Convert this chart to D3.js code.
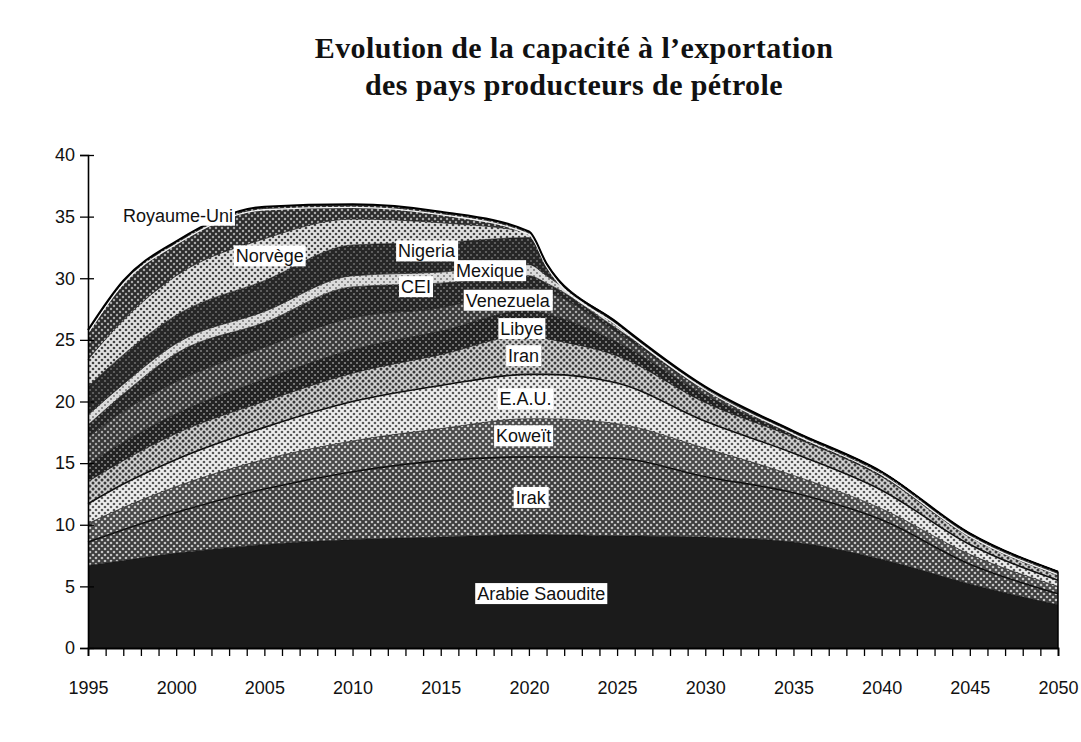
<!DOCTYPE html>
<html>
<head>
<meta charset="utf-8">
<script src="https://cdn.jsdelivr.net/npm/d3@7"></script>
<style>
  body { margin: 0; background: #fff; }
  text { font-family: "Liberation Sans", Arial, sans-serif; }
</style>
</head>
<body>
<svg id="chart" width="1081" height="742"></svg>
<script>
const years = [1995, 1997, 2000, 2005, 2010, 2015, 2020, 2021, 2025, 2030, 2035, 2040, 2045, 2050];

// export capacity per country (stack order, bottom first)
const arabieSaoudite = [6.7, 7.1, 7.7, 8.4, 8.8, 9.0, 9.2, 9.2, 9.1, 9.0, 8.6, 7.2, 5.2, 3.5];
const irak          = [1.9, 2.5, 3.3, 4.5, 5.5, 6.2, 6.3, 6.3, 6.3, 4.9, 4.0, 3.2, 1.6, 0.9];
const koweit        = [1.5, 1.8, 2.1, 2.4, 2.5, 2.6, 3.1, 3.1, 2.8, 2.3, 1.4, 0.9, 0.8, 0.6];
const eau           = [1.6, 1.9, 2.2, 2.6, 3.2, 3.5, 3.6, 3.6, 3.3, 2.2, 1.8, 1.5, 0.8, 0.5];
const iran          = [1.8, 1.9, 2.1, 2.1, 2.3, 2.5, 3.2, 2.9, 2.2, 1.5, 1.3, 1.1, 0.6, 0.4];
const libye         = [1.4, 1.5, 1.6, 1.8, 1.9, 1.9, 2.0, 2.0, 1.1, 0.6, 0.2, 0.2, 0.15, 0.15];
const venezuela     = [2.2, 2.5, 2.6, 2.6, 2.6, 1.9, 1.8, 1.8, 0.8, 0.4, 0.2, 0.2, 0.15, 0.15];
const cei           = [1.0, 1.4, 2.3, 2.0, 2.5, 2.0, 1.0, 0.7, 0.3, 0.1, 0.05, 0, 0, 0];
const mexique       = [0.8, 0.8, 0.8, 0.9, 0.9, 0.9, 0.9, 0.6, 0.2, 0.1, 0, 0, 0, 0];
const nigeria       = [2.3, 2.4, 2.3, 2.5, 2.5, 2.4, 2.2, 0.9, 0.3, 0.1, 0.05, 0, 0, 0];
const norvege       = [2.2, 2.8, 3.2, 3.4, 2.1, 1.6, 0.4, 0.1, 0, 0, 0, 0, 0, 0];
const royaumeUni    = [2.4, 3.2, 2.8, 2.6, 1.2, 0.9, 0.1, 0, 0, 0, 0, 0, 0, 0];

const countries = ["Arabie Saoudite", "Irak", "Koweït", "E.A.U.", "Iran", "Libye",
                   "Venezuela", "CEI", "Mexique", "Nigeria", "Norvège", "Royaume-Uni"];
const series = [arabieSaoudite, irak, koweit, eau, iran, libye,
                venezuela, cei, mexique, nigeria, norvege, royaumeUni];

// where each label sits: [year, value]
const labelPos = [[2020.7, 4.4], [2020.1, 12.2], [2019.7, 17.2], [2019.8, 20.2],
                  [2019.7, 23.7], [2019.6, 25.9], [2018.8, 28.2], [2013.6, 29.3],
                  [2017.8, 30.6], [2014.2, 32.2], [2005.3, 31.8], [2000.1, 35.1]];

const yTicks = [0, 5, 10, 15, 20, 25, 30, 35, 40];
const title = ["Evolution de la capacité à l\u2019exportation", "des pays producteurs de pétrole"];

// halftone look for each band: background, dot colour, dot radius
const shades = [
  ["#1b1b1b", "#1b1b1b", 0],
  ["#3d3d3d", "#c4c4c4", 1.3],
  ["#484848", "#cdcdcd", 1.3],
  ["#efefef", "#5a5a5a", 1.35],
  ["#d2d2d2", "#3a3a3a", 1.5],
  ["#222222", "#8a8a8a", 1.1],
  ["#383838", "#a8a8a8", 1.25],
  ["#252525", "#7a7a7a", 1.1],
  ["#dcdcdc", "#7a7a7a", 1.1],
  ["#262626", "#6a6a6a", 1.1],
  ["#e2e2e2", "#444444", 1.35],
  ["#2c2c2c", "#a8a8a8", 1.25]
];

var svg = d3.select("#chart");
var margin = {left: 88, right: 1058, top: 155, bottom: 648};

var x = d3.scaleLinear().domain([1995, 2050]).range([margin.left, margin.right]);
var y = d3.scaleLinear().domain([0, 40]).range([margin.bottom, margin.top]);

// table for d3.stack
var table = years.map(function(yr, i) {
  var row = {year: yr};
  countries.forEach(function(c, k) { row[c] = series[k][i]; });
  return row;
});
var stacked = d3.stack().keys(countries)(table);

// patterns
var defs = svg.append("defs");
shades.forEach(function(s, i) {
  var p = defs.append("pattern")
      .attr("id", "pat" + i)
      .attr("patternUnits", "userSpaceOnUse")
      .attr("width", 6).attr("height", 6);
  p.append("rect").attr("width", 6).attr("height", 6).attr("fill", s[0]);
  if (s[2] > 0) {
    [[0, 0], [6, 0], [0, 6], [6, 6], [3, 3]].forEach(function(c) {
      p.append("circle").attr("cx", c[0]).attr("cy", c[1]).attr("r", s[2]).attr("fill", s[1]);
    });
  }
});

// title
svg.append("g").selectAll("text")
  .data(title)
  .enter().append("text")
    .attr("x", 574)
    .attr("y", function(d, i) { return 58 + i * 37; })
    .attr("text-anchor", "middle")
    .style("font-family", "'Liberation Serif', 'DejaVu Serif', serif")
    .style("font-weight", "bold")
    .style("font-size", "30px")
    .style("letter-spacing", "0.4px")
    .attr("fill", "#111")
    .text(function(d) { return d; });

var area = d3.area()
    .curve(d3.curveMonotoneX)
    .x(function(d) { return x(d.data.year); })
    .y0(function(d) { return y(d[0]); })
    .y1(function(d) { return y(d[1]); });

var line = d3.line()
    .curve(d3.curveMonotoneX)
    .x(function(d) { return x(d.data.year); })
    .y(function(d) { return y(d[1]); });

svg.append("g").selectAll("path")
  .data(stacked)
  .enter().append("path")
    .attr("d", area)
    .attr("fill", function(d, i) { return "url(#pat" + i + ")"; });

// thin separators between the bands
svg.append("g").selectAll("path")
  .data(stacked.slice(0, stacked.length - 1))
  .enter().append("path")
    .attr("d", line)
    .attr("fill", "none")
    .attr("stroke", "#111")
    .attr("stroke-width", function(d, i) { return (i == 1 || i == 3) ? 1.6 : 0.7; });

// top outline (with the thin white rim just under it), right edge
var topLayer = stacked[stacked.length - 1];
svg.append("path")
  .attr("d", line(topLayer))
  .attr("transform", "translate(0,3)")
  .attr("fill", "none")
  .attr("stroke", "#f4f4f4")
  .attr("stroke-width", 1.3);
svg.append("path")
  .attr("d", line(topLayer))
  .attr("fill", "none")
  .attr("stroke", "#000")
  .attr("stroke-width", 2);
svg.append("line")
  .attr("x1", x(2050)).attr("x2", x(2050))
  .attr("y1", y(0)).attr("y2", y(topLayer[topLayer.length - 1][1]))
  .attr("stroke", "#000").attr("stroke-width", 1.5);

// labels
var lab = svg.append("g").selectAll("g")
  .data(countries)
  .enter().append("g")
    .attr("transform", function(d, i) { return "translate(" + x(labelPos[i][0]) + "," + y(labelPos[i][1]) + ")"; });
lab.append("text")
    .attr("text-anchor", "middle")
    .attr("dy", "0.35em")
    .style("font-size", "18px")
    .attr("fill", "#111")
    .text(function(d) { return d; });
lab.each(function() {
  var g = d3.select(this);
  var b = g.select("text").node().getBBox();
  g.insert("rect", "text")
    .attr("x", b.x - 2).attr("y", b.y - 1)
    .attr("width", b.width + 4).attr("height", b.height + 1)
    .attr("fill", "#fff");
});

// axes
var yAxis = svg.append("g")
    .attr("transform", "translate(" + margin.left + ",0)")
    .call(d3.axisLeft(y).tickValues(yTicks).tickSize(8).tickPadding(5));
yAxis.selectAll(".tick line").attr("x1", 6).attr("stroke-width", 1.3);
yAxis.selectAll("text").style("font-size", "18px").attr("fill", "#111");
yAxis.select(".domain").attr("stroke-width", 1.6);

var xAxis = svg.append("g")
    .attr("transform", "translate(0," + margin.bottom + ")")
    .call(d3.axisBottom(x)
      .tickValues(d3.range(1995, 2051))
      .tickSize(8).tickPadding(25)
      .tickFormat(function(d) { return d % 5 == 0 ? d : ""; }));
xAxis.selectAll("text").style("font-size", "18px").attr("fill", "#111");
xAxis.select(".domain").attr("stroke-width", 1.8);
xAxis.selectAll(".tick line").attr("stroke-width", 1.3);
</script>
</body>
</html>
